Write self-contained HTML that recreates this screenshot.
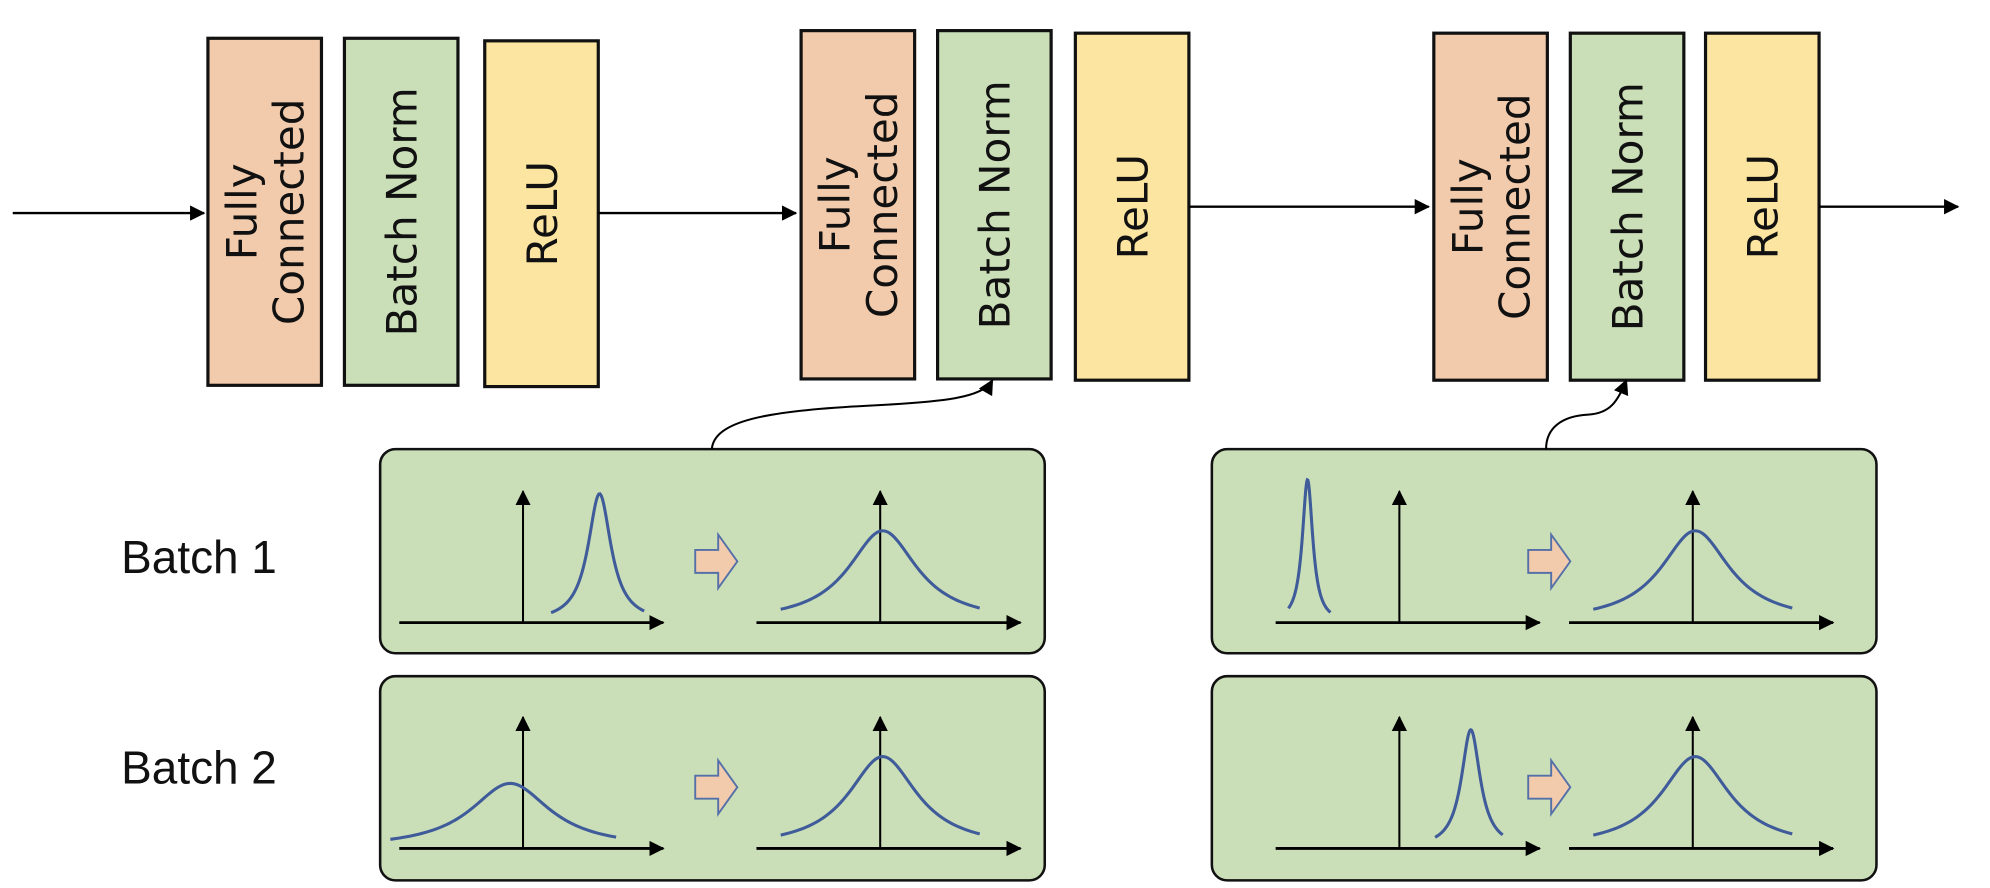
<!DOCTYPE html>
<html><head><meta charset="utf-8"><style>
html,body{margin:0;padding:0;background:#fff;}
svg{display:block;}
.lbl{font-family:"DejaVu Sans","Liberation Sans",sans-serif;font-size:33px;fill:#111;}
.bt{font-family:"Liberation Sans",sans-serif;font-size:36px;fill:#111;}
</style></head><body>
<svg id="s" width="1990" height="888" viewBox="0 0 1560 696" preserveAspectRatio="none" xmlns="http://www.w3.org/2000/svg">
<defs>
<marker id="ah" markerWidth="12" markerHeight="12" refX="11" refY="6" orient="auto" markerUnits="userSpaceOnUse"><path d="M0,0 L12,6 L0,12 Z" fill="#000"/></marker>
</defs>
<g id="layers"></g>
<g id="panels"></g>
<text class="bt" x="95" y="449">Batch 1</text>
<text class="bt" x="95" y="614">Batch 2</text>
</svg>
<script>
const NS="http://www.w3.org/2000/svg";
const svg=document.getElementById('s');
const layersG=document.getElementById('layers');
const panelsG=document.getElementById('panels');
function mk(tag,attrs,parent){const e=document.createElementNS(NS,tag);for(const k in attrs)e.setAttribute(k,attrs[k]);(parent||svg).appendChild(e);return e;}

// layer blocks
const blockX=[163,270,380,628,735,843,1124,1231,1337];
const blockTop=[30,30,32,24,24,26,26,26,26];
const blockBottom=[302,302,303,297,297,298,298,298,298];
const blockType=["fc","bn","relu","fc","bn","relu","fc","bn","relu"];
const fills={fc:"#f2cbad",bn:"#cadfb8",relu:"#fbe5a0"};
const texts={fc:["Fully","Connected"],bn:["Batch Norm"],relu:["ReLU"]};
for(let i=0;i<blockX.length;i++){
  const g=mk('g',{},layersG);
  
  
  const w=89,x=blockX[i],t=blockTop[i],b=blockBottom[i];
  mk('rect',{x:x,y:t,width:w,height:b-t,fill:fills[blockType[i]],stroke:'#111','stroke-width':2.5},g);
  const cx=x+w/2,cy=(t+b)/2;
  const lines=texts[blockType[i]];
  const tx=mk('text',{class:'lbl','text-anchor':'middle',transform:`translate(${cx},${cy}) rotate(-90)`},g);
  lines.forEach((l,j)=>{
    const off=(j-(lines.length-1)/2)*37+12;
    const ts=mk('tspan',{x:0,y:off},tx);ts.textContent=l;
  });
}
const flowArrows=[[10,160,167],[469,624,167],[932,1120,162],[1426,1535,162]];
flowArrows.forEach((a,i)=>{
  const l=mk('line',{x1:a[0],y1:a[2],x2:a[1],y2:a[2],stroke:'#000','stroke-width':1.8,'marker-end':'url(#ah)'},layersG);
  
  
});
const panelX=[298,298,950,950];
const panelY=[352,530,352,530];
panelX.forEach((x,i)=>{
  const r=mk('rect',{x:x,y:panelY[i],width:521,height:160,rx:12,fill:'#cadfb8',stroke:'#111','stroke-width':2},panelsG);
  
  
});
const c1=mk('path',{d:'M558,352 C560,330 600,322 680,318 C740,315 770,312 778,298',fill:'none',stroke:'#000','stroke-width':1.6,'marker-end':'url(#ah)'});


const c2=mk('path',{d:'M1212,352 C1212,335 1225,326 1245,325 C1262,324 1268,315 1275,298',fill:'none',stroke:'#000','stroke-width':1.6,'marker-end':'url(#ah)'});



// mini distribution plots
const plotAxisX=[410,690,410,690,1097,1327,1097,1327];
const plotBaseY=[488,488,665,665,488,488,665,665];
const curveCenter=[60,2,-10,2,-72,2,56,2];
const curvePeak=[101,72,51,72,112,72,93,72];
const curveHalfWidth=[11,33,38,33,5,33,9,33];
const curveFrom=[22,-78,-104,-78,-87,-78,28,-78];
const curveTo=[95,78,73,78,-54,78,81,78];
for(let i=0;i<plotAxisX.length;i++){
  const g=mk('g',{},panelsG);
  
  
  const ax=plotAxisX[i],by=plotBaseY[i];
  mk('line',{x1:ax-97,y1:by,x2:ax+110,y2:by,stroke:'#000','stroke-width':2.2,'marker-end':'url(#ah)'},g);
  mk('line',{x1:ax,y1:by,x2:ax,y2:by-103,stroke:'#000','stroke-width':1.6,'marker-end':'url(#ah)'},g);
  let d='';
  for(let k=0;k<=80;k++){
    const xo=curveFrom[i]+(curveTo[i]-curveFrom[i])*k/80;
    const u=(xo-curveCenter[i])/curveHalfWidth[i];
    const y=by-curvePeak[i]/(1+u*u);
    d+=(k?'L':'M')+(ax+xo).toFixed(2)+','+y.toFixed(2);
  }
  const p=mk('path',{d:d,fill:'none',stroke:'#3f5b9a','stroke-width':2.4},g);
  
  
}
const tArrowX=[545,545,1198,1198];
const tArrowY=[440,617,440,617];
tArrowX.forEach((x,i)=>{
  const y=tArrowY[i];
  const p=mk('path',{d:`M${x},${y-9} L${x+18},${y-9} L${x+18},${y-21} L${x+33},${y} L${x+18},${y+21} L${x+18},${y+9} L${x},${y+9} Z`,fill:'#f2cbad',stroke:'#5570a8','stroke-width':1.5},panelsG);
  
  
});
</script>
</body></html>
